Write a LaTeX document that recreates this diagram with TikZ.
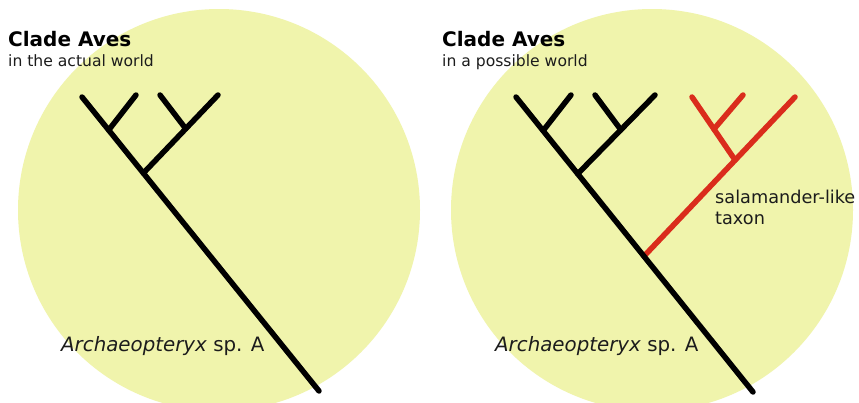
\documentclass[tikz,border=0pt]{standalone}
\usepackage{fontspec}
\setmainfont{DejaVu Sans}
\usetikzlibrary{calc}
\definecolor{disc}{RGB}{240,244,172}
\definecolor{redb}{RGB}{218,44,28}
\definecolor{txt}{RGB}{28,28,28}
\begin{document}
\begin{tikzpicture}[x=1pt,y=-1pt,
  branch/.style={line width=5.5pt,line cap=round,black},
  redbranch/.style={line width=5.5pt,line cap=round,redb},
  title/.style={anchor=base west,inner sep=0pt,font=\fontsize{20}{22}\selectfont\bfseries,text=black},
  subtitle/.style={anchor=base west,inner sep=0pt,font=\fontsize{15.6}{18}\selectfont,text=txt},
  taxon/.style={anchor=base west,inner sep=0pt,font=\fontsize{19.8}{22}\selectfont,text=txt},
  note/.style={anchor=base west,inner sep=0pt,align=left,font=\fontsize{17.7}{21}\selectfont,text=txt}]
\useasboundingbox (0,0) rectangle (859,402);
\clip (0,0) rectangle (859,402);
\fill[white] (0,0) rectangle (859,402);
% discs
\fill[disc] (219,210) circle (201);
\fill[disc] (652,210) circle (201);
% ---------- left tree ----------
\coordinate (Ltop) at (82,97);
\coordinate (Lbot) at (319,391);
\coordinate (LA) at ($(Ltop)!(110,129)!(Lbot)$);
\coordinate (LAend) at (136,95);
\coordinate (LB) at ($(Ltop)!(146,171)!(Lbot)$);
\coordinate (LBend) at (218,95);
\coordinate (LC) at ($(LB)!(185,128)!(LBend)$);
\coordinate (LCend) at (160,95);
\draw[branch] (LA) -- (LAend);
\draw[branch] (LC) -- (LCend);
\draw[branch] (LB) -- (LBend);
\draw[branch] (Ltop) -- (Lbot);
% ---------- right tree ----------
\coordinate (Rtop) at (516,97);
\coordinate (Rbot) at (753,392);
\coordinate (RA) at ($(Rtop)!(544,130)!(Rbot)$);
\coordinate (RAend) at (571,95);
\coordinate (RB) at ($(Rtop)!(580,172)!(Rbot)$);
\coordinate (RBend) at (655,95);
\coordinate (RC) at ($(RB)!(619,128)!(RBend)$);
\coordinate (RCend) at (595,95);
\coordinate (RD) at ($(Rtop)!(648,253)!(Rbot)$);
\coordinate (RRend) at (795,97);
\coordinate (RE) at ($(RD)!(735,160)!(RRend)$);
\coordinate (REend) at (692,97);
\coordinate (RF) at ($(RE)!(717,127)!(REend)$);
\coordinate (RFend) at (743,95);
\draw[redbranch] (RF) -- (RFend);
\draw[redbranch] (RE) -- (REend);
\draw[redbranch] (RD) -- (RRend);
\draw[branch] (RA) -- (RAend);
\draw[branch] (RC) -- (RCend);
\draw[branch] (RB) -- (RBend);
\draw[branch] (Rtop) -- (Rbot);
% ---------- texts ----------
\node[title] (lt) at (8,46) {Clade Aves};
\node[subtitle] (ls) at (8,66) {in the actual world};
\node[title] (rt) at (442,46) {Clade Aves};
\node[subtitle] (rs) at (442,66) {in a possible world};
\node[taxon] (la) at (61,351) {\textit{Archaeopteryx} sp. A};
\node[taxon] (ra) at (495,351) {\textit{Archaeopteryx} sp. A};
\node[note] (sal) at (715,224) {salamander-like\\taxon};
\end{tikzpicture}
\end{document}
